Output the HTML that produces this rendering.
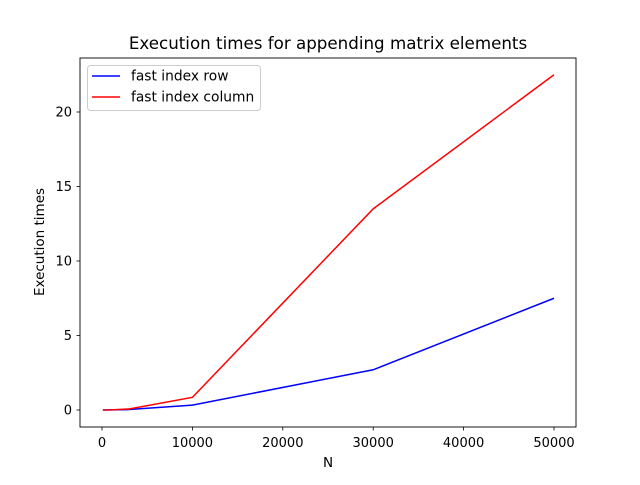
<!DOCTYPE html>
<html><head><meta charset="utf-8"><style>
body{margin:0;background:#fff;}
text{font-family:"DejaVu Sans","Liberation Sans",sans-serif;}
</style></head><body>
<svg id="chart" width="640" height="480" xmlns="http://www.w3.org/2000/svg">
<rect width="640" height="480" fill="#fff"/>
<text x="328" y="49" font-size="16.7" text-anchor="middle">Execution times for appending matrix elements</text>
<g id="plot"></g>
<rect x="80" y="58" width="496" height="369" fill="none" stroke="#000" stroke-width="0.9"/>
<text x="328" y="467" font-size="13.5" text-anchor="middle">N</text>
<text transform="translate(44,242) rotate(-90)" font-size="13.5" text-anchor="middle">Execution times</text>
<g>
<rect x="87.5" y="65.5" width="173" height="45" rx="3" fill="#fff" stroke="#ccc" stroke-width="1"/>
<line x1="92" y1="76" x2="120" y2="76" stroke="#0000ff" stroke-width="1.5"/>
<text x="131" y="80.5" font-size="13.8">fast index row</text>
<line x1="92" y1="97" x2="120" y2="97" stroke="#ff0000" stroke-width="1.5"/>
<text x="131" y="101.5" font-size="13.8">fast index column</text>
</g>
</svg>
<script>
const sizes=[100,1000,3000,10000,30000,50000];
const rowTimes=[0.0,0.01,0.03,0.33,2.7,7.5];
const colTimes=[0.0,0.01,0.07,0.85,13.5,22.5];
const xTicks=[0,10000,20000,30000,40000,50000];
const yTicks=[0,5,10,15,20];
const X=v=>102+v*(554-102)/50000;
const Y=v=>410-v*(410-112)/20;
const ns="http://www.w3.org/2000/svg";
const g=document.getElementById('plot');
function mk(t,a){const e=document.createElementNS(ns,t);for(const k in a)e.setAttribute(k,a[k]);g.appendChild(e);return e;}
xTicks.forEach(v=>{
 const l=mk('line',{x1:X(v),x2:X(v),y1:427,y2:430.5,stroke:'#000','stroke-width':0.8});
 
 
 const t=mk('text',{x:X(v),y:447,'font-size':13,'text-anchor':'middle'});t.textContent=v;
 
 
});
yTicks.forEach(v=>{
 const l=mk('line',{x1:76.5,x2:80,y1:Y(v),y2:Y(v),stroke:'#000','stroke-width':0.8});
 
 
 const t=mk('text',{x:72,y:Y(v)+4.5,'font-size':13,'text-anchor':'end'});t.textContent=v;
 
 
});
function line(vals,color,name){
 const p=mk('polyline',{points:sizes.map((s,i)=>X(s)+','+Y(vals[i])).join(' '),fill:'none',stroke:color,'stroke-width':1.5});
 
 
}
line(rowTimes,'#0000ff','series-fast-index-row');
line(colTimes,'#ff0000','series-fast-index-column');
</script>
</body></html>
